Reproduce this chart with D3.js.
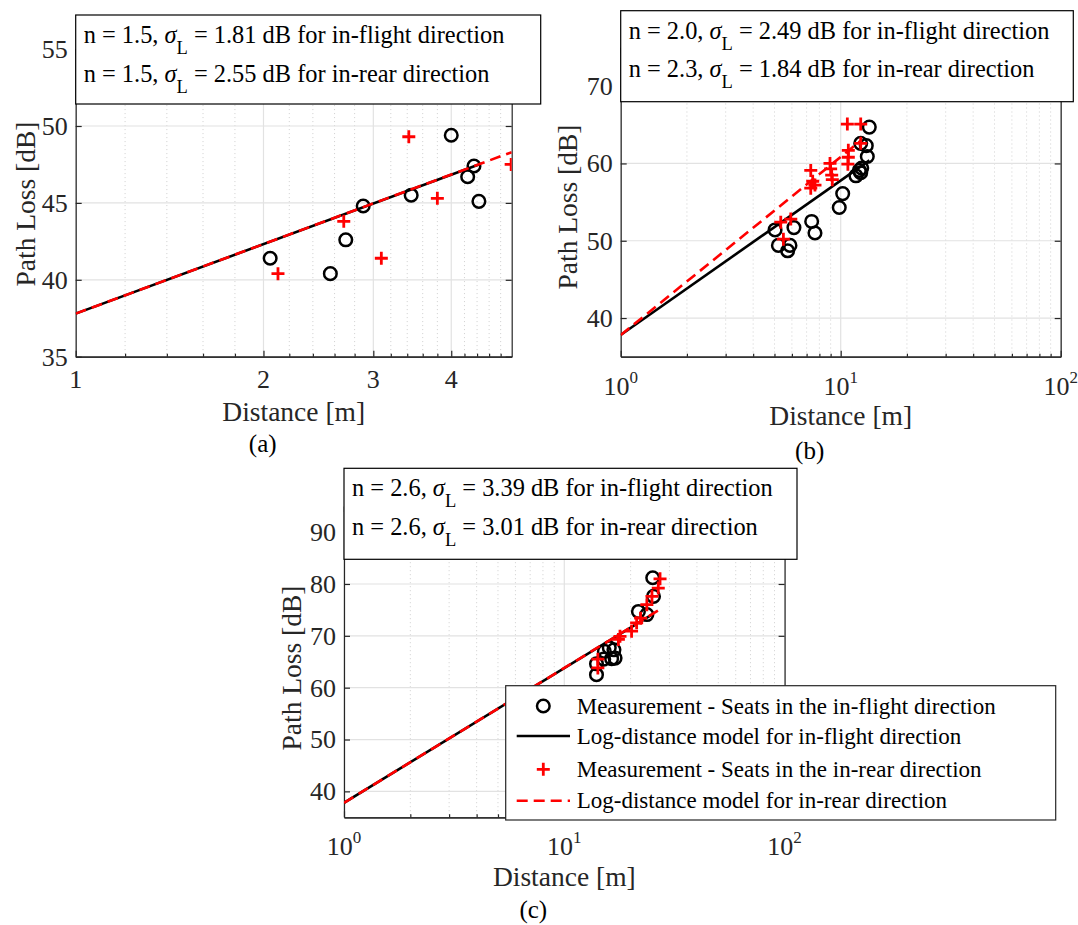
<!DOCTYPE html>
<html lang="en">
<head>
<meta charset="UTF-8">
<title>Path loss vs distance</title>
<script src="https://d3js.org/d3.v7.min.js"></script>
<style>
    body { margin: 0; background: #fff; }
    svg { font-family: "Liberation Serif", "Times New Roman", serif; }
</style>
</head>
<body>
<svg width="1078" height="925"></svg>
<script>

// ---- panel (a) data ----
var aFlightDist = [2.05, 2.56, 2.71, 2.89, 3.45, 4.00, 4.25, 4.35, 4.43];
var aFlightPL   = [41.4, 40.4, 42.6, 44.8, 45.5, 49.4, 46.7, 47.4, 45.1];
var aRearDist   = [2.11, 2.69, 3.09, 3.42, 3.80, 4.99];
var aRearPL     = [40.4, 43.8, 41.4, 49.3, 45.3, 47.5];
var aFlightModelDist = [1, 4.43], aFlightModelPL = [37.8, 47.5];
var aRearModelDist   = [1, 5.0],  aRearModelPL   = [37.8, 48.3];
var aXTicks = [1, 2, 3, 4];
var aYTicks = [35, 40, 45, 50, 55];
var aNote = ["n = 1.5, |1.81 dB for in-flight direction", "n = 1.5, |2.55 dB for in-rear direction"];

// ---- panel (b) data ----
var bFlightDist = [5.03, 5.21, 5.74, 5.88, 6.13, 7.38, 7.64, 9.85, 10.21, 11.73, 12.15, 12.46, 12.33, 12.33, 13.07, 13.21, 13.49];
var bFlightPL   = [51.4, 49.4, 48.7, 49.4, 51.7, 52.5, 51.0, 54.3, 56.1, 58.4, 59.1, 59.4, 58.8, 62.6, 62.3, 60.9, 64.7];
var bRearDist   = [5.49, 5.34, 5.93, 7.31, 7.46, 7.31, 7.64, 8.94, 9.00, 9.10, 9.16, 10.72, 10.83, 10.83, 10.78, 12.33, 12.33];
var bRearPL     = [50.2, 52.4, 52.8, 59.1, 57.7, 56.8, 57.2, 60.0, 59.3, 58.5, 57.9, 65.1, 61.7, 60.8, 59.9, 65.1, 62.6];
var bFlightModelDist = [1, 13.5], bFlightModelPL = [37.8, 60.4];
var bRearModelDist   = [1, 12.4], bRearModelPL   = [37.8, 63.0];
var bXTicks = [1, 10, 100];
var bYTicks = [40, 50, 60, 70];
var bNote = ["n = 2.0, |2.49 dB for in-flight direction", "n = 2.3, |1.84 dB for in-rear direction"];

// ---- panel (c) data ----
var cFlightDist = [14.0, 14.0, 15.1, 15.2, 16.0, 16.4, 16.8, 17.0, 21.7, 23.7, 25.4, 25.2];
var cFlightPL   = [62.5, 64.6, 65.5, 67.0, 67.7, 65.6, 67.3, 65.7, 74.7, 74.1, 77.6, 81.2];
var cRearDist   = [14.2, 14.2, 17.6, 17.9, 20.2, 21.3, 22.2, 23.7, 25.0, 26.7, 27.2];
var cRearPL     = [63.8, 65.5, 69.3, 69.9, 70.9, 72.5, 73.4, 76.0, 77.6, 79.2, 81.0];
var cFlightModelDist = [1, 25.4], cFlightModelPL = [37.8, 74.3];
var cRearModelDist   = [1, 27.2], cRearModelPL   = [37.8, 75.1];
var cXTicks = [1, 10, 100];
var cYTicks = [40, 50, 60, 70, 80, 90];
var cNote = ["n = 2.6, |3.39 dB for in-flight direction", "n = 2.6, |3.01 dB for in-rear direction"];

var legendLabels = [
    "Measurement - Seats in the in-flight direction",
    "Log-distance model for in-flight direction",
    "Measurement - Seats in the in-rear direction",
    "Log-distance model for in-rear direction"
];

var svg = d3.select("svg");
var axisColor = "#262626";

function zip(a, b) { return a.map(function (d, i) { return [d, b[i]]; }); }

function minorTicks(domain, linearStep) {
    var out = [];
    if (linearStep) {
        for (var v = domain[0]; v < domain[1] - 1e-9; v += linearStep) {
            var r = Math.round(v * 10) / 10;
            if (Math.abs(r - Math.round(r)) > 1e-6) out.push(r);
        }
    } else {
        for (var dec = domain[0]; dec < domain[1]; dec *= 10)
            for (var k = 2; k <= 9; k++) out.push(dec * k);
    }
    return out;
}

function drawPanel(p) {
    var x = d3.scaleLog().domain(p.xDomain).range([p.left, p.right]);
    var y = d3.scaleLinear().domain(p.yDomain).range([p.bottom, p.top]);
    var g = svg.append("g");
    var minor = minorTicks(p.xDomain, p.minorStep);

    // grid
    g.selectAll(".minor").data(minor).enter().append("line")
        .attr("x1", function (d) { return x(d); }).attr("x2", function (d) { return x(d); })
        .attr("y1", p.top).attr("y2", p.bottom)
        .attr("stroke", "#cfcfcf").attr("stroke-width", 1).attr("stroke-dasharray", "1,3");
    g.selectAll(".xgrid").data(p.xTicks).enter().append("line")
        .attr("x1", function (d) { return x(d); }).attr("x2", function (d) { return x(d); })
        .attr("y1", p.top).attr("y2", p.bottom)
        .attr("stroke", "#e2e2e2").attr("stroke-width", 1.2);
    g.selectAll(".ygrid").data(p.yTicks).enter().append("line")
        .attr("x1", p.left).attr("x2", p.right)
        .attr("y1", function (d) { return y(d); }).attr("y2", function (d) { return y(d); })
        .attr("stroke", "#e2e2e2").attr("stroke-width", 1.2);

    // axes (inward ticks, MATLAB box style)
    g.append("g").attr("transform", "translate(0," + p.bottom + ")")
        .call(d3.axisBottom(x).tickValues(p.xTicks).tickSize(-6).tickSizeOuter(0).tickFormat(""));
    g.append("g").attr("transform", "translate(0," + p.bottom + ")")
        .call(d3.axisBottom(x).tickValues(minor).tickSize(-3).tickSizeOuter(0).tickFormat(""));
    g.append("g").attr("transform", "translate(0," + p.top + ")")
        .call(d3.axisTop(x).tickValues(p.xTicks).tickSize(-6).tickSizeOuter(0).tickFormat(""));
    g.append("g").attr("transform", "translate(" + p.left + ",0)")
        .call(d3.axisLeft(y).tickValues(p.yTicks).tickSize(-6).tickSizeOuter(0).tickFormat(""));
    g.append("g").attr("transform", "translate(" + p.right + ",0)")
        .call(d3.axisRight(y).tickValues(p.yTicks).tickSize(-6).tickSizeOuter(0).tickFormat(""));
    g.selectAll(".domain, .tick line").attr("stroke", axisColor).attr("stroke-width", 1.2);

    // tick labels
    g.selectAll(".ylab").data(p.yTicks).enter().append("text")
        .attr("x", p.left - 8).attr("y", function (d) { return y(d); }).attr("dy", "0.34em")
        .attr("text-anchor", "end").attr("font-size", 26).attr("fill", axisColor)
        .text(function (d) { return d; });
    var xl = g.selectAll(".xlab").data(p.xTicks).enter().append("text")
        .attr("x", function (d) { return x(d); }).attr("y", p.bottom + p.xLabOffset)
        .attr("text-anchor", "middle").attr("font-size", 26).attr("fill", axisColor);
    if (p.powerLabels) {
        xl.each(function (d) {
            var t = d3.select(this);
            t.append("tspan").text("10");
            t.append("tspan").attr("dy", -12).attr("font-size", 17).text(Math.round(Math.log10(d)));
        });
    } else {
        xl.text(function (d) { return d; });
    }

    // clip for data
    var clipId = "clip" + p.name;
    svg.append("clipPath").attr("id", clipId).append("rect")
        .attr("x", p.left).attr("y", p.top).attr("width", p.right - p.left).attr("height", p.bottom - p.top);
    var plot = g.append("g").attr("clip-path", "url(#" + clipId + ")");
    var line = d3.line().x(function (d) { return x(d[0]); }).y(function (d) { return y(d[1]); });

    plot.selectAll(".circ").data(zip(p.flightDist, p.flightPL)).enter().append("circle")
        .attr("cx", function (d) { return x(d[0]); }).attr("cy", function (d) { return y(d[1]); })
        .attr("r", 6.3).attr("fill", "none").attr("stroke", "#000").attr("stroke-width", 2.5);
    plot.append("path").datum(zip(p.flightModelDist, p.flightModelPL)).attr("d", line)
        .attr("fill", "none").attr("stroke", "#000").attr("stroke-width", 2.6);
    plot.selectAll(".plus").data(zip(p.rearDist, p.rearPL)).enter().append("path")
        .attr("transform", function (d) { return "translate(" + x(d[0]) + "," + y(d[1]) + ")"; })
        .attr("d", "M-6.5,0H6.5M0,-6.5V6.5").attr("stroke", "#ff0000").attr("stroke-width", 2.8);
    plot.append("path").datum(zip(p.rearModelDist, p.rearModelPL)).attr("d", line)
        .attr("fill", "none").attr("stroke", "#ff0000").attr("stroke-width", 2.6)
        .attr("stroke-dasharray", "11,6");

    // axis titles
    g.append("text").attr("transform", "translate(" + p.yTitle[0] + "," + p.yTitle[1] + ") rotate(-90)")
        .attr("text-anchor", "middle").attr("font-size", 27.5).attr("fill", axisColor).text("Path Loss [dB]");
    var cx = (p.left + p.right) / 2;
    g.append("text").attr("x", cx).attr("y", p.xTitleY)
        .attr("text-anchor", "middle").attr("font-size", 27.5).attr("fill", axisColor).text("Distance [m]");
    g.append("text").attr("x", cx - 31).attr("y", p.letterY)
        .attr("text-anchor", "middle").attr("font-size", 25).attr("fill", "#000").text(p.letter);

    // annotation box
    var b = p.note;
    g.append("rect").attr("x", b.x).attr("y", b.y).attr("width", b.w).attr("height", b.h)
        .attr("fill", "#fff").attr("stroke", "#000").attr("stroke-width", 1.2);
    p.noteText.forEach(function (s, i) {
        var parts = s.split("|");
        var t = g.append("text").attr("x", b.x + 8).attr("y", b.y + 28 + i * 38.5)
            .attr("font-size", 24.4).attr("fill", "#000");
        t.append("tspan").text(parts[0]);
        t.append("tspan").attr("font-style", "italic").text("\u03C3");
        t.append("tspan").attr("dy", 11).attr("font-size", 18.5).text("L");
        t.append("tspan").attr("dy", -11).text(" = " + parts[1]);
    });
    return { x: x, y: y, g: g };
}

drawPanel({
    name: "a", letter: "(a)",
    left: 75.7, right: 511.7, top: 49.1, bottom: 356.7,
    xDomain: [1, 5], yDomain: [35, 55], minorStep: 0.2,
    xTicks: aXTicks, yTicks: aYTicks, powerLabels: false, xLabOffset: 31,
    flightDist: aFlightDist, flightPL: aFlightPL, rearDist: aRearDist, rearPL: aRearPL,
    flightModelDist: aFlightModelDist, flightModelPL: aFlightModelPL,
    rearModelDist: aRearModelDist, rearModelPL: aRearModelPL,
    yTitle: [35, 204], xTitleY: 421, letterY: 452,
    note: { x: 75.7, y: 15, w: 465, h: 89 }, noteText: aNote
});

drawPanel({
    name: "b", letter: "(b)",
    left: 620.7, right: 1060.7, top: 47.5, bottom: 356.7,
    xDomain: [1, 100], yDomain: [35, 75], minorStep: null,
    xTicks: bXTicks, yTicks: bYTicks, powerLabels: true, xLabOffset: 38,
    flightDist: bFlightDist, flightPL: bFlightPL, rearDist: bRearDist, rearPL: bRearPL,
    flightModelDist: bFlightModelDist, flightModelPL: bFlightModelPL,
    rearModelDist: bRearModelDist, rearModelPL: bRearModelPL,
    yTitle: [577, 207], xTitleY: 425, letterY: 459,
    note: { x: 620.7, y: 10.7, w: 452.6, h: 91 }, noteText: bNote
});

drawPanel({
    name: "c", letter: "(c)",
    left: 344, right: 784.6, top: 506.2, bottom: 817.3,
    xDomain: [1, 100], yDomain: [35, 95], minorStep: null,
    xTicks: cXTicks, yTicks: cYTicks, powerLabels: true, xLabOffset: 38,
    flightDist: cFlightDist, flightPL: cFlightPL, rearDist: cRearDist, rearPL: cRearPL,
    flightModelDist: cFlightModelDist, flightModelPL: cFlightModelPL,
    rearModelDist: cRearModelDist, rearModelPL: cRearModelPL,
    yTitle: [301, 668], xTitleY: 886, letterY: 918,
    note: { x: 344, y: 468.3, w: 453, h: 91 }, noteText: cNote
});

// legend (panel c)
var leg = svg.append("g").attr("transform", "translate(505.7,685.7)");
leg.append("rect").attr("width", 550).attr("height", 134.3)
    .attr("fill", "#fff").attr("stroke", axisColor).attr("stroke-width", 1.2);
var rowY = [20.3, 50.3, 83.6, 115];
leg.selectAll(".lt").data(legendLabels).enter().append("text")
    .attr("x", 71).attr("y", function (d, i) { return rowY[i]; }).attr("dy", "0.33em")
    .attr("font-size", 23).attr("fill", "#000").text(function (d) { return d; });
leg.append("circle").attr("cx", 37.6).attr("cy", rowY[0]).attr("r", 6.3)
    .attr("fill", "none").attr("stroke", "#000").attr("stroke-width", 2.5);
leg.append("line").attr("x1", 11).attr("x2", 64.3).attr("y1", rowY[1]).attr("y2", rowY[1])
    .attr("stroke", "#000").attr("stroke-width", 2.6);
leg.append("path").attr("transform", "translate(37.6," + rowY[2] + ")")
    .attr("d", "M-6.5,0H6.5M0,-6.5V6.5").attr("stroke", "#ff0000").attr("stroke-width", 2.8);
leg.append("line").attr("x1", 11).attr("x2", 64.3).attr("y1", rowY[3]).attr("y2", rowY[3])
    .attr("stroke", "#ff0000").attr("stroke-width", 2.6).attr("stroke-dasharray", "11,6");

</script>
</body>
</html>
